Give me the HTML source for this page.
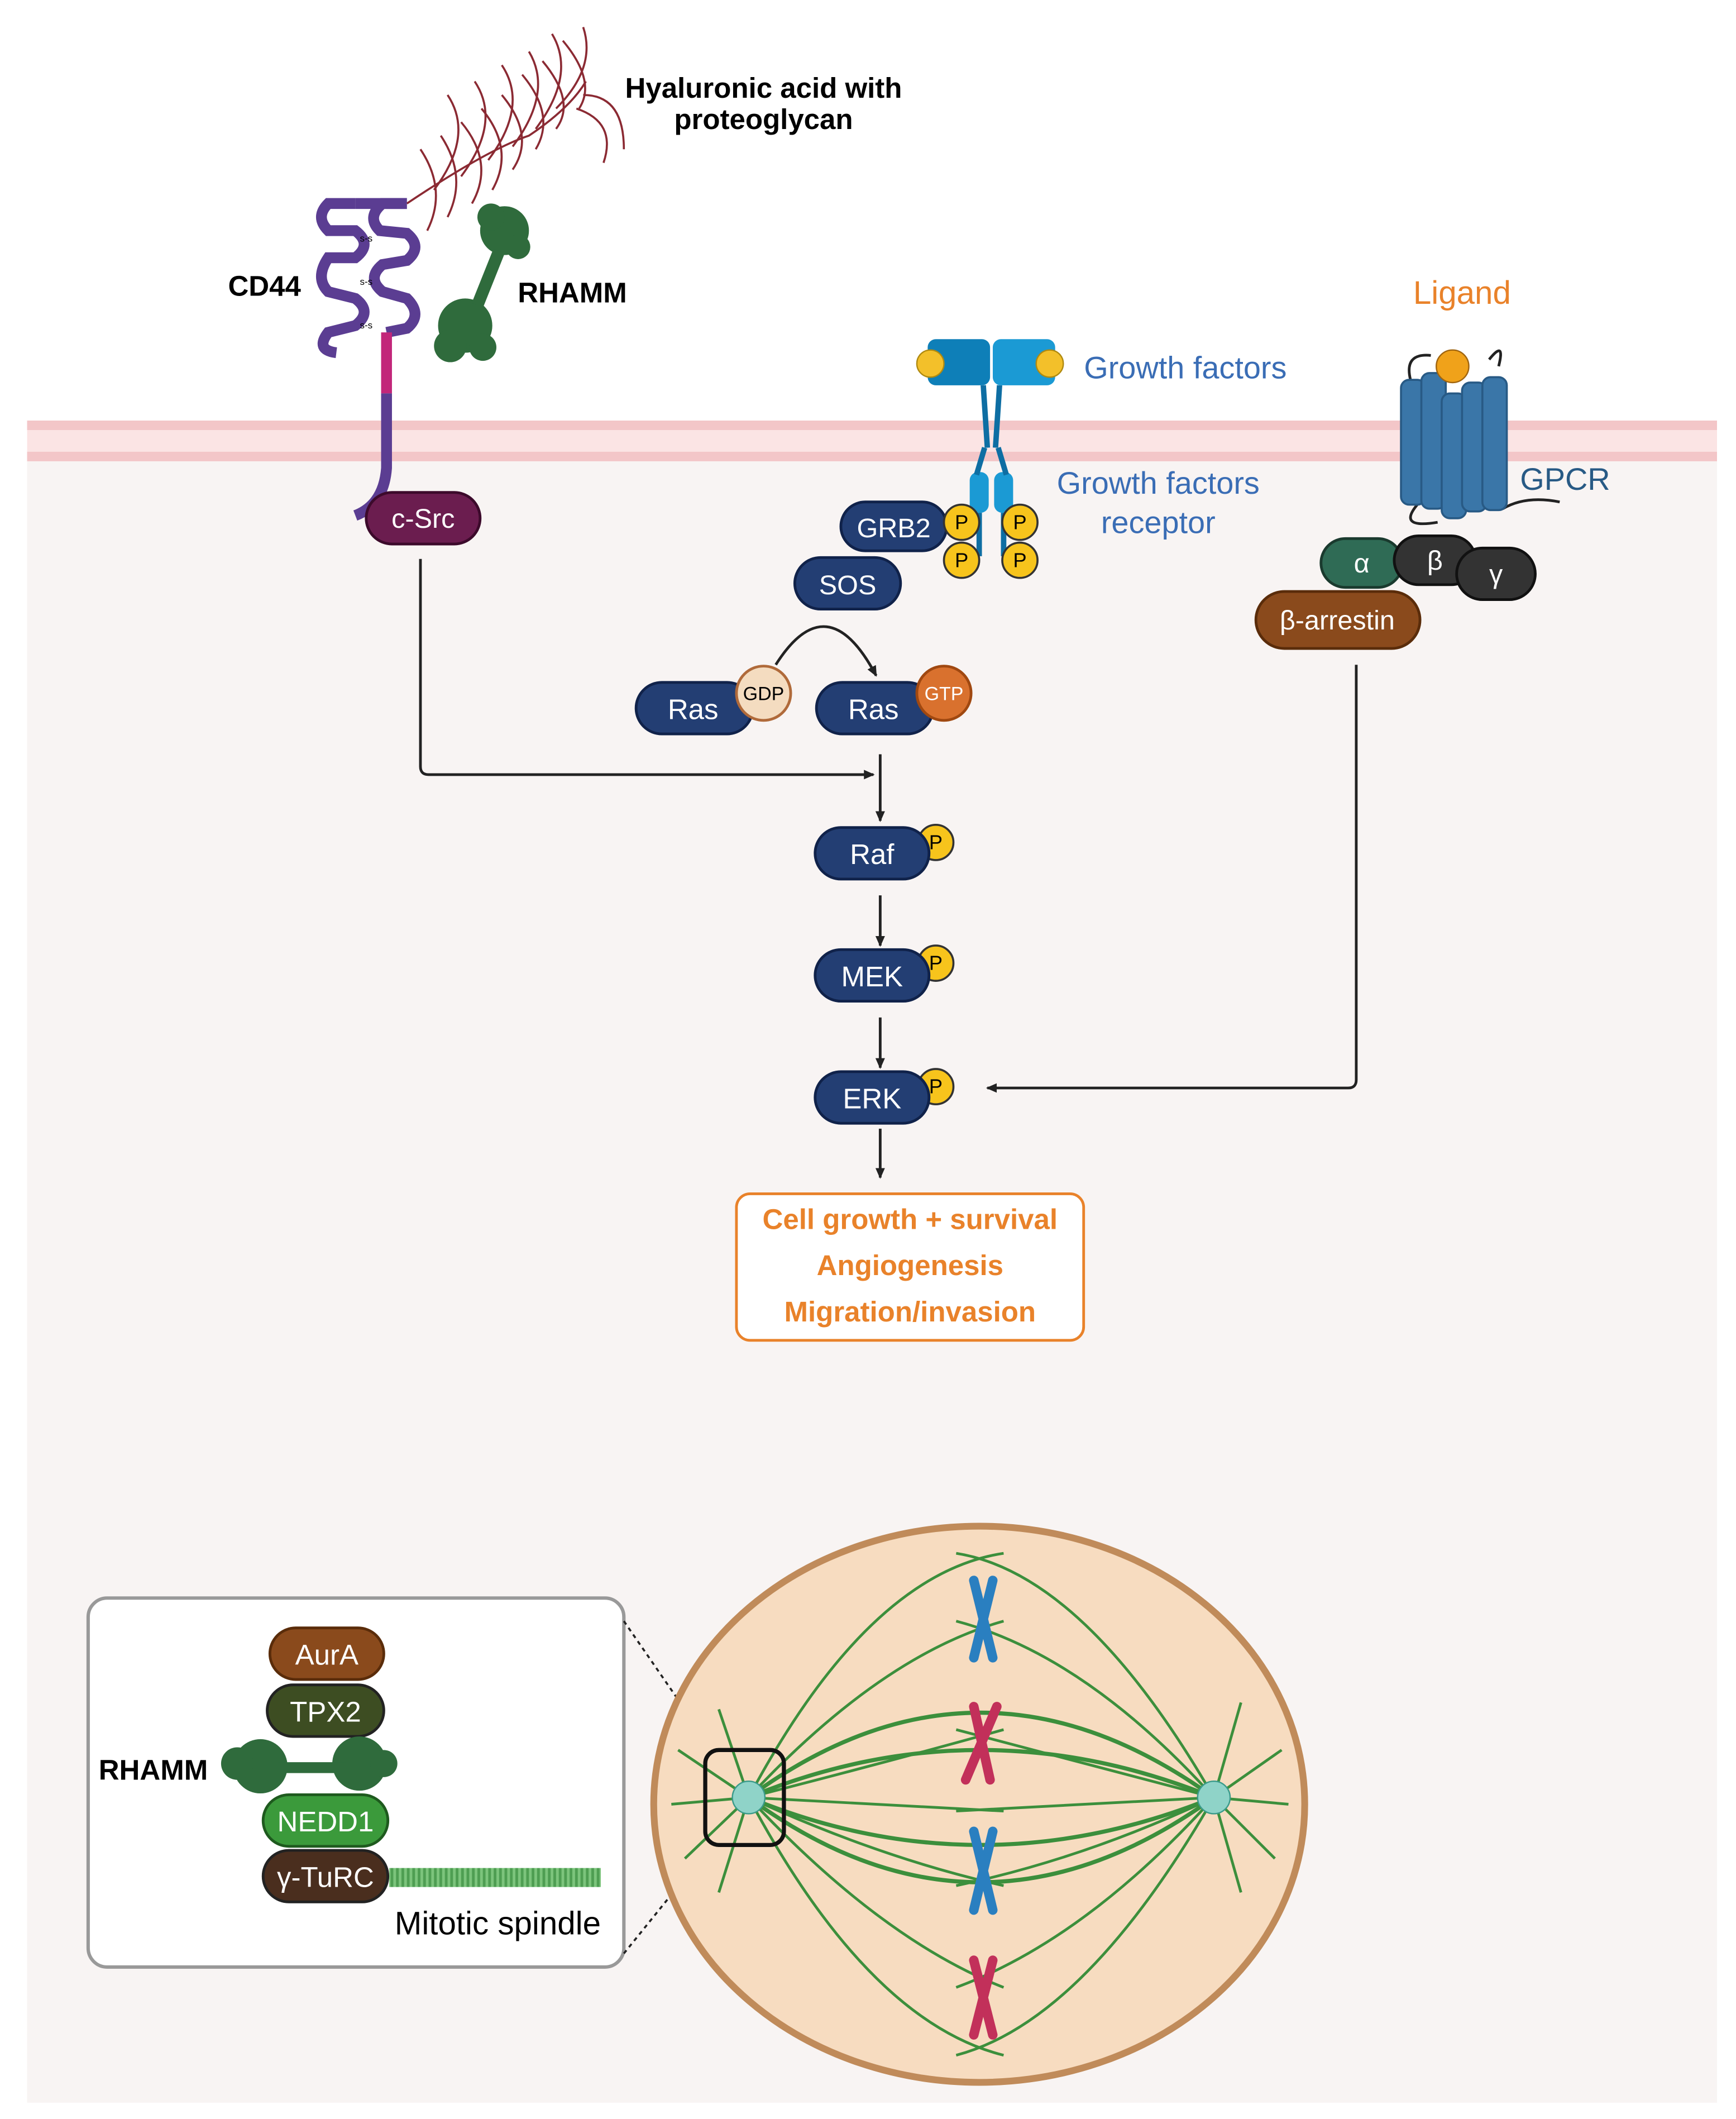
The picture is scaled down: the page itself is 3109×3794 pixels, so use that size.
<!DOCTYPE html>
<html><head><meta charset="utf-8"><style>
html,body{margin:0;padding:0;background:#fff}
svg{display:block}
text{font-family:"Liberation Sans",sans-serif}
</style></head><body>
<svg width="3109" height="3794" viewBox="0 0 1280 1562" xmlns="http://www.w3.org/2000/svg">
<defs>
<marker id="ah" markerWidth="8" markerHeight="8" refX="7" refY="4" orient="auto" markerUnits="userSpaceOnUse"><path d="M0,0.5 L8,4 L0,7.5z" fill="#222"/></marker>
<pattern id="mt" width="4" height="10" patternUnits="userSpaceOnUse"><rect width="4" height="10" fill="#7cc47c"/><rect width="2" height="10" fill="#4e9e52"/></pattern>
</defs>
<rect width="1280" height="1562" fill="#fff"/>
<rect x="20" y="338" width="1246" height="1212" fill="#f8f4f3"/>
<rect x="20" y="310" width="1246" height="30" fill="#fbe4e4"/>
<rect x="20" y="310" width="1246" height="7" fill="#f3c6c8"/>
<rect x="20" y="333" width="1246" height="7" fill="#f3c6c8"/>

<!-- Hyaluronic acid -->
<g stroke="#8b2a33" stroke-width="1.5" fill="none">
<path d="M300,150 Q360,110 390,100 Q420,80 432,60"/>
<path d="M310,110 q20,30 5,60 M325,100 q20,30 5,60 M340,90 q25,30 8,60 M355,80 q25,30 8,60 M370,70 q25,30 8,55 M385,55 q25,30 10,55 M400,45 q25,30 10,50 M415,30 q25,30 12,50"/>
<path d="M320,140 q30,-40 10,-70 M340,130 q30,-40 10,-70 M360,118 q30,-40 10,-70 M378,108 q30,-40 12,-70 M395,95 q30,-40 12,-70 M410,80 q30,-30 20,-60 M430,70 q30,0 30,40 M425,80 q30,10 20,40"/>
</g>
<text x="563" y="72" font-size="21" font-weight="bold" text-anchor="middle">Hyaluronic acid with</text>
<text x="563" y="95" font-size="21" font-weight="bold" text-anchor="middle">proteoglycan</text>

<!-- CD44 -->
<path d="M262,150 L242,150 Q232,160 242,170 L262,170 Q275,180 262,190 L242,190 Q232,205 242,215 L262,220 Q275,230 262,240 L242,245 Q232,258 248,260 M300,150 L282,150 Q270,160 280,170 L300,172 Q312,182 300,192 L282,195 Q270,205 282,215 L300,220 Q312,232 300,242 L285,245" stroke="#5b3d92" stroke-width="8" fill="none"/>
<path d="M262,150 L300,150" stroke="#5b3d92" stroke-width="8"/>
<path d="M285,245 L285,290" stroke="#c2267a" stroke-width="8"/>
<path d="M285,290 L285,345 Q283,372 262,380" stroke="#5b3d92" stroke-width="8" fill="none"/>
<text x="270" y="178" font-size="7" text-anchor="middle">s-s</text>
<text x="270" y="210" font-size="7" text-anchor="middle">s-s</text>
<text x="270" y="242" font-size="7" text-anchor="middle">s-s</text>
<text x="195" y="218" font-size="21" font-weight="bold" text-anchor="middle">CD44</text>
<!-- RHAMM top -->
<g fill="#2f6b3c">
<circle cx="372" cy="170" r="18"/><circle cx="362" cy="160" r="10"/><circle cx="382" cy="182" r="9"/>
<circle cx="343" cy="240" r="20"/><circle cx="332" cy="255" r="12"/><circle cx="356" cy="256" r="10"/>
</g>
<path d="M368,185 L352,225" stroke="#2f6b3c" stroke-width="9"/>
<text x="422" y="223" font-size="21" font-weight="bold" text-anchor="middle">RHAMM</text>
<rect x="270" y="363" width="84" height="38" rx="19" fill="#6b1d4f" stroke="#3c0a2b" stroke-width="2"/>
<text x="312" y="389" font-size="20" fill="#fff" text-anchor="middle">c-Src</text>

<!-- Growth factor receptor -->
<rect x="684" y="250" width="46" height="34" rx="6" fill="#0e7fb8"/>
<rect x="732" y="250" width="46" height="34" rx="6" fill="#1b9ad4"/>
<circle cx="686" cy="268" r="10" fill="#f3c02a" stroke="#b08a10"/>
<circle cx="774" cy="268" r="10" fill="#f3c02a" stroke="#b08a10"/>
<path d="M725,284 L728,330 M737,284 L734,330" stroke="#0e6ea3" stroke-width="4"/>
<rect x="715" y="348" width="14" height="30" rx="6" fill="#1b9ad4"/>
<rect x="733" y="348" width="14" height="30" rx="6" fill="#1b9ad4"/>
<path d="M726,330 L720,350 M736,330 L742,350 M722,378 L722,410 M740,378 L740,410" stroke="#0e6ea3" stroke-width="4"/>
<text x="874" y="279" font-size="23" fill="#3a6db5" text-anchor="middle">Growth factors</text>
<text x="854" y="364" font-size="23" fill="#3a6db5" text-anchor="middle">Growth factors</text>
<text x="854" y="393" font-size="23" fill="#3a6db5" text-anchor="middle">receptor</text>
<rect x="620" y="370" width="78" height="36" rx="18" fill="#233e73" stroke="#10224a" stroke-width="2"/>
<text x="659" y="396" font-size="20" fill="#fff" text-anchor="middle">GRB2</text>
<g fill="#f7c41c" stroke="#333" stroke-width="1.5">
<circle cx="709" cy="385" r="13"/><circle cx="752" cy="385" r="13"/><circle cx="709" cy="413" r="13"/><circle cx="752" cy="413" r="13"/>
<circle cx="690" cy="621" r="13"/><circle cx="690" cy="710" r="13"/><circle cx="690" cy="801" r="13"/><circle cx="288" cy="1211" r="13"/>
</g>
<g font-size="15" text-anchor="middle"><text x="709" y="390">P</text><text x="752" y="390">P</text><text x="709" y="418">P</text><text x="752" y="418">P</text>
<text x="690" y="626">P</text><text x="690" y="715">P</text><text x="690" y="806">P</text><text x="288" y="1216">P</text></g>
<rect x="586" y="411" width="78" height="38" rx="19" fill="#233e73" stroke="#10224a" stroke-width="2"/>
<text x="625" y="438" font-size="20" fill="#fff" text-anchor="middle">SOS</text>
<path d="M572,490 Q610,430 646,498" stroke="#222" stroke-width="2" fill="none" marker-end="url(#ah)"/>
<rect x="469" y="503" width="86" height="38" rx="19" fill="#233e73" stroke="#10224a" stroke-width="2"/>
<text x="511" y="530" font-size="21" fill="#fff" text-anchor="middle">Ras</text>
<circle cx="563" cy="511" r="20" fill="#f4dcc0" stroke="#b06a3a" stroke-width="2"/>
<text x="563" y="516" font-size="14" text-anchor="middle">GDP</text>
<rect x="602" y="503" width="86" height="38" rx="19" fill="#233e73" stroke="#10224a" stroke-width="2"/>
<text x="644" y="530" font-size="21" fill="#fff" text-anchor="middle">Ras</text>
<circle cx="696" cy="511" r="20" fill="#d9712e" stroke="#a04810" stroke-width="2"/>
<text x="696" y="516" font-size="14" fill="#fff" text-anchor="middle">GTP</text>

<path d="M310,412 L310,565 Q310,571 316,571 L644,571" stroke="#222" stroke-width="2" fill="none" marker-end="url(#ah)"/>
<path d="M649,556 L649,605" stroke="#222" stroke-width="2" marker-end="url(#ah)"/>
<rect x="601" y="610" width="84" height="38" rx="19" fill="#233e73" stroke="#10224a" stroke-width="2"/>
<text x="643" y="637" font-size="21" fill="#fff" text-anchor="middle">Raf</text>
<path d="M649,660 L649,697" stroke="#222" stroke-width="2" marker-end="url(#ah)"/>
<rect x="601" y="700" width="84" height="38" rx="19" fill="#233e73" stroke="#10224a" stroke-width="2"/>
<text x="643" y="727" font-size="21" fill="#fff" text-anchor="middle">MEK</text>
<path d="M649,750 L649,787" stroke="#222" stroke-width="2" marker-end="url(#ah)"/>
<rect x="601" y="790" width="84" height="38" rx="19" fill="#233e73" stroke="#10224a" stroke-width="2"/>
<text x="643" y="817" font-size="21" fill="#fff" text-anchor="middle">ERK</text>
<path d="M649,832 L649,868" stroke="#222" stroke-width="2" marker-end="url(#ah)"/>
<path d="M1000,490 L1000,796 Q1000,802 994,802 L728,802" stroke="#222" stroke-width="2" fill="none" marker-end="url(#ah)"/>

<rect x="543" y="880" width="256" height="108" rx="10" fill="#fff" stroke="#e9822a" stroke-width="2"/>
<g font-size="21" font-weight="bold" fill="#e9822a" text-anchor="middle">
<text x="671" y="906">Cell growth + survival</text><text x="671" y="940">Angiogenesis</text><text x="671" y="974">Migration/invasion</text></g>

<!-- GPCR -->
<text x="1078" y="224" font-size="24" fill="#e9822a" text-anchor="middle">Ligand</text>
<path d="M1040,280 Q1035,260 1055,262 M1098,265 Q1110,250 1105,270 M1045,372 Q1030,390 1060,385 M1108,375 Q1125,365 1150,370" stroke="#222" stroke-width="2" fill="none"/>
<g fill="#3a76a8" stroke="#285a85" stroke-width="1.5">
<rect x="1033" y="280" width="18" height="92" rx="6"/><rect x="1048" y="275" width="18" height="100" rx="6"/><rect x="1063" y="290" width="18" height="92" rx="6"/><rect x="1078" y="282" width="18" height="95" rx="6"/><rect x="1093" y="278" width="18" height="98" rx="6"/>
</g>
<circle cx="1071" cy="270" r="12" fill="#f0a21a" stroke="#a06510"/>
<text x="1154" y="361" font-size="23" fill="#285a85" text-anchor="middle">GPCR</text>
<rect x="974" y="397" width="60" height="36" rx="18" fill="#2f6b55" stroke="#1a3a2e" stroke-width="2"/>
<text x="1004" y="422" font-size="20" fill="#fff" text-anchor="middle">α</text>
<rect x="1028" y="395" width="60" height="36" rx="18" fill="#333" stroke="#111" stroke-width="2"/>
<text x="1058" y="420" font-size="20" fill="#fff" text-anchor="middle">β</text>
<rect x="1074" y="404" width="58" height="38" rx="19" fill="#333" stroke="#111" stroke-width="2"/>
<text x="1103" y="430" font-size="20" fill="#fff" text-anchor="middle">γ</text>
<rect x="926" y="436" width="121" height="42" rx="21" fill="#8a4a1c" stroke="#5a2c0a" stroke-width="2"/>
<text x="986" y="464" font-size="20" fill="#fff" text-anchor="middle">β-arrestin</text>

<!-- inset -->
<rect x="65" y="1178" width="395" height="272" rx="14" fill="#fff" stroke="#999" stroke-width="2.5"/>
<path d="M460,1195 L527,1292 M460,1440 L527,1357" stroke="#222" stroke-width="1.5" stroke-dasharray="3,3"/>
<rect x="199" y="1200" width="84" height="38" rx="19" fill="#8a4a1c" stroke="#5a2c0a" stroke-width="2"/>
<text x="241" y="1227" font-size="21" fill="#fff" text-anchor="middle">AurA</text>
<rect x="197" y="1242" width="86" height="38" rx="19" fill="#3d4d22" stroke="#222" stroke-width="2"/>
<text x="240" y="1269" font-size="21" fill="#fff" text-anchor="middle">TPX2</text>
<g fill="#2f6b3c"><circle cx="192" cy="1302" r="20"/><circle cx="175" cy="1300" r="12"/><circle cx="265" cy="1300" r="20"/><circle cx="283" cy="1300" r="10"/></g>
<path d="M205,1303 L255,1303" stroke="#2f6b3c" stroke-width="8"/>
<text x="113" y="1312" font-size="21" font-weight="bold" text-anchor="middle">RHAMM</text>
<rect x="194" y="1323" width="92" height="38" rx="19" fill="#3b9a3b" stroke="#1e5a1e" stroke-width="2"/>
<text x="240" y="1350" font-size="21" fill="#fff" text-anchor="middle">NEDD1</text>
<rect x="287" y="1377" width="156" height="14" fill="url(#mt)"/>
<rect x="194" y="1364" width="92" height="38" rx="19" fill="#4a2e1e" stroke="#222" stroke-width="2"/>
<text x="240" y="1391" font-size="21" fill="#fff" text-anchor="middle">γ-TuRC</text>
<text x="367" y="1426" font-size="24" text-anchor="middle">Mitotic spindle</text>

<!-- cell -->
<ellipse cx="722" cy="1330" rx="240" ry="205" fill="#f7dcc0" stroke="#c08b5a" stroke-width="5"/>
<g stroke="#3c8f3c" stroke-width="2" fill="none">
<path d="M552,1325 Q722,1200 895,1325 M552,1325 Q722,1450 895,1325 M552,1325 Q722,1255 895,1325 M552,1325 Q722,1395 895,1325" stroke-width="3"/>
<path d="M552,1325 Q640,1160 740,1145 M552,1325 Q650,1220 740,1195 M552,1325 Q650,1430 740,1465 M552,1325 Q640,1490 740,1515 M552,1325 L740,1335 M552,1325 Q650,1300 740,1275 M552,1325 Q650,1370 740,1390"/>
<path d="M895,1325 Q800,1160 705,1145 M895,1325 Q800,1220 705,1195 M895,1325 Q800,1430 705,1465 M895,1325 Q800,1490 705,1515 M895,1325 L705,1335 M895,1325 Q800,1300 705,1275 M895,1325 Q800,1370 705,1390"/>
<path d="M552,1325 L500,1290 M552,1325 L495,1330 M552,1325 L505,1370 M552,1325 L530,1260 M552,1325 L530,1395 M895,1325 L945,1290 M895,1325 L950,1330 M895,1325 L940,1370 M895,1325 L915,1255 M895,1325 L915,1395"/>
</g>
<circle cx="552" cy="1325" r="12" fill="#8fd3c8" stroke="#3a9a8a"/>
<circle cx="895" cy="1325" r="12" fill="#8fd3c8" stroke="#3a9a8a"/>
<rect x="520" y="1290" width="58" height="70" rx="10" fill="none" stroke="#111" stroke-width="3"/>
<g stroke-width="7" stroke-linecap="round">
<path d="M718,1165 L732,1222 M732,1165 L718,1222" stroke="#2a7fc0"/>
<path d="M718,1258 L730,1312 M735,1258 L712,1312" stroke="#c2305a"/>
<path d="M718,1350 L732,1408 M732,1350 L718,1408" stroke="#2a7fc0"/>
<path d="M718,1445 L732,1500 M732,1445 L718,1500" stroke="#c2305a"/>
</g>
</svg>
</body></html>
